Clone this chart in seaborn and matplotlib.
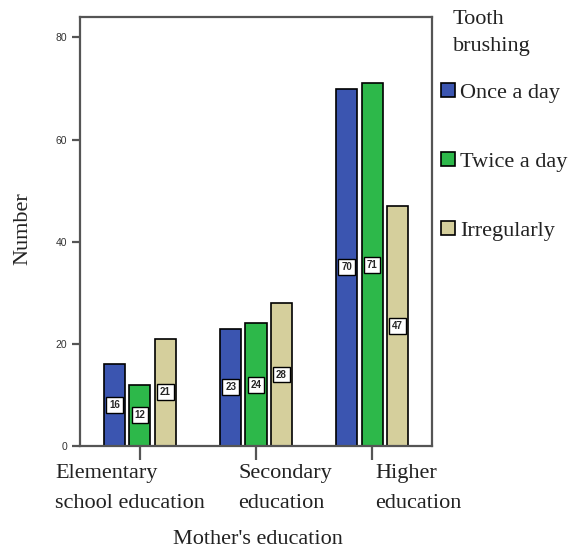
import matplotlib
matplotlib.use("Agg")
import matplotlib.pyplot as plt
import matplotlib.transforms as mtransforms
import seaborn as sns
import pandas as pd

# Counts of children by mother's education and tooth-brushing frequency
education = ["Elementary\nschool education", "Secondary\neducation", "Higher\neducation"]
brushing = ["Once a day", "Twice a day", "Irregularly"]
once_a_day = [16, 23, 70]
twice_a_day = [12, 24, 71]
irregularly = [21, 28, 47]
y_ticks = [0, 20, 40, 60, 80]

colors = ["#3b55b0", "#2db84a", "#d5cf9c"]

rows = []
for i, edu in enumerate(education):
    for name, vals in zip(brushing, [once_a_day, twice_a_day, irregularly]):
        rows.append({"education": edu, "brushing": name, "count": vals[i]})
df = pd.DataFrame(rows)

sns.set_theme(style="white")
plt.rcParams["font.family"] = ["Liberation Serif", "DejaVu Serif"]

fig = plt.figure(figsize=(5.79, 5.47), dpi=100)
ax = fig.add_axes([80 / 579, 1 - 446 / 547, (432 - 80) / 579, (446 - 17) / 547])

sns.barplot(data=df, x="education", y="count", hue="brushing",
            order=education, hue_order=brushing, palette=colors,
            width=0.655, gap=0.17, edgecolor="black", linewidth=1.2,
            saturation=1, ax=ax, legend=True)

for cont in ax.containers:
    ax.bar_label(cont, label_type="center", fontsize=7,
                 family="Liberation Sans", fontweight="bold",
                 bbox=dict(boxstyle="square,pad=0.3", fc="white",
                           ec="black", lw=1.0))

ax.set_ylim(0, 84)
ax.set_xlim(-0.517, 2.517)
ax.set_yticks(y_ticks)
ax.set_yticklabels([str(v) for v in y_ticks], family="Liberation Sans",
                   fontsize=7.5, color="#333333")

for side in ["left", "bottom", "top", "right"]:
    ax.spines[side].set_visible(True)
    ax.spines[side].set_color("#555555")
    ax.spines[side].set_linewidth(1.6)

ax.tick_params(axis="y", which="both", left=True, length=6, width=1.6,
               color="#555555", pad=3)
ax.tick_params(axis="x", which="both", bottom=True, length=10, width=1.6,
               color="#555555", pad=3)

# Category labels, left-aligned beneath their ticks
ax.set_xticks(range(len(education)))
ax.set_xticklabels(education, fontsize=16, ha="left", linespacing=1.75,
                   color="#222222")
shifts_px = [-85, -18, 3]
for lbl, dx in zip(ax.get_xticklabels(), shifts_px):
    lbl.set_transform(lbl.get_transform() +
                      mtransforms.ScaledTranslation(dx / 100, 0, fig.dpi_scale_trans))

ax.set_xlabel("")
ax.set_ylabel("")
fig.text(23 / 579, 1 - 229 / 547, "Number", rotation=90, ha="center",
         va="center", fontsize=16, color="#222222")
fig.text(258 / 579, 1 - 539 / 547, "Mother's education", ha="center",
         va="center", fontsize=16, color="#222222")

# Legend to the right of the plot
handles, labels = ax.get_legend_handles_labels()
ax.get_legend().remove()
fig.text(453 / 579, 1 - 10 / 547, "Tooth\nbrushing", ha="left", va="top",
         fontsize=16, linespacing=1.55, color="#222222")
leg = fig.legend(handles, labels, loc="upper left",
                 bbox_to_anchor=(432 / 579, 1 - 74 / 547), frameon=False,
                 fontsize=16, handlelength=0.62, handleheight=0.62,
                 handletextpad=0.25, labelspacing=2.2, borderaxespad=0)
for t in leg.get_texts():
    t.set_color("#222222")

fig.savefig("out.png", dpi=100, facecolor="white")
